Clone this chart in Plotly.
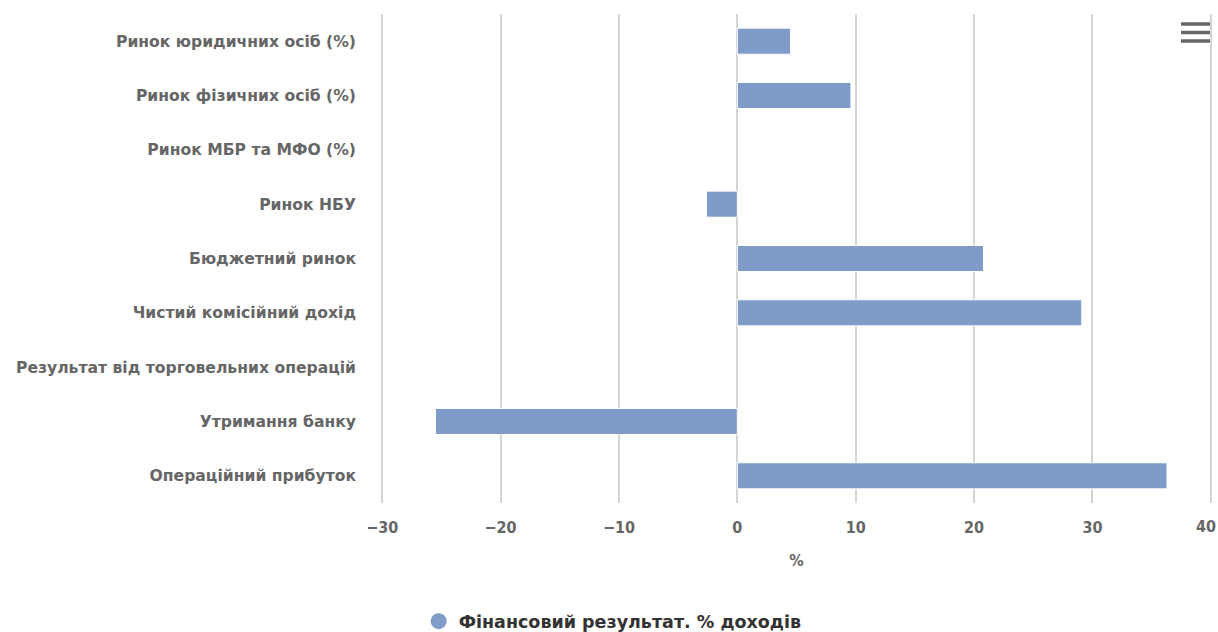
import plotly.graph_objects as go

# Categories (top to bottom) and financial result, % of income
categories = [
    "Ринок юридичних осіб (%)",
    "Ринок фізичних осіб (%)",
    "Ринок МБР та МФО (%)",
    "Ринок НБУ",
    "Бюджетний ринок",
    "Чистий комісійний дохід",
    "Результат від торговельних операцій",
    "Утримання банку",
    "Операційний прибуток",
]
values = [4.5, 9.6, None, -2.6, 20.8, 29.1, None, -25.5, 36.3]
series_name = "Фінансовий результат. % доходів"
x_ticks = [-30, -20, -10, 0, 10, 20, 30, 40]

BAR_COLOR = "#7f9bc8"
LABEL_COLOR = "#666666"
FONT = "DejaVu Sans"
TICK_FONT = "DejaVu Sans Condensed, DejaVu Sans"

fig = go.Figure()
fig.add_trace(go.Bar(
    y=categories,
    x=values,
    orientation="h",
    marker=dict(color=BAR_COLOR, line=dict(color="#ffffff", width=1)),
    width=0.48,
    showlegend=False,
    name=series_name,
))
# Legend entry with a round symbol
fig.add_trace(go.Scatter(
    x=[None], y=[None], mode="markers",
    marker=dict(symbol="circle", size=16, color=BAR_COLOR),
    name="<b>" + series_name + "</b>", showlegend=True,
))

# The last tick label sits flush with the right edge
tick_text = [("−" + str(-t)) if t < 0 else str(t) for t in x_ticks]
tick_text[-1] = ""

fig.update_layout(
    width=1218, height=632,
    margin=dict(l=381, r=6, t=14, b=129),
    plot_bgcolor="#ffffff", paper_bgcolor="#ffffff",
    font=dict(family=FONT, color=LABEL_COLOR),
    xaxis=dict(
        range=[-30.1, 40.1], tickvals=x_ticks, ticktext=tick_text,
        showgrid=True, gridcolor="#d4d4d4", gridwidth=1.5,
        zeroline=False, showline=False,
        tickfont=dict(size=16, color=LABEL_COLOR, family=TICK_FONT, weight="bold"),
        ticklabelstandoff=13,
        title=dict(text="<b>%</b>", font=dict(size=16, color=LABEL_COLOR, family=TICK_FONT), standoff=18),
        fixedrange=True,
    ),
    yaxis=dict(
        categoryorder="array", categoryarray=categories[::-1],
        tickvals=categories, ticktext=["<b>" + c + "</b>" for c in categories],
        autorange=False, range=[-0.5, len(categories) - 0.5],
        showgrid=False, zeroline=False, showline=False,
        tickfont=dict(size=15.6, color=LABEL_COLOR, family=FONT),
        ticklabelstandoff=24,
        fixedrange=True,
    ),
    legend=dict(
        orientation="h", xref="container", yref="container",
        x=0.503, xanchor="center", y=0.017, yanchor="middle",
        font=dict(size=17.5, color="#333333", family=FONT),
        itemsizing="trace",
    ),
    showlegend=True,
)

fig.add_annotation(
    x=40, xref="x", y=0, yref="paper", yanchor="top", xanchor="right",
    xshift=7, yshift=-12, showarrow=False, text="<b>40</b>",
    font=dict(size=16, color=LABEL_COLOR, family=TICK_FONT),
)

# Export menu icon (three bars) in the top-right corner
plot_w = 1218 - 381 - 6
plot_h = 632 - 14 - 129
for ypx in (24, 32.5, 41):
    yp = 1 - (ypx - 14) / plot_h
    fig.add_shape(
        type="line", xref="paper", yref="paper",
        x0=(1181 - 381) / plot_w, x1=(1210 - 381) / plot_w, y0=yp, y1=yp,
        line=dict(color="#666666", width=3.5),
    )

fig.write_html("out.html", config={"displayModeBar": False})
